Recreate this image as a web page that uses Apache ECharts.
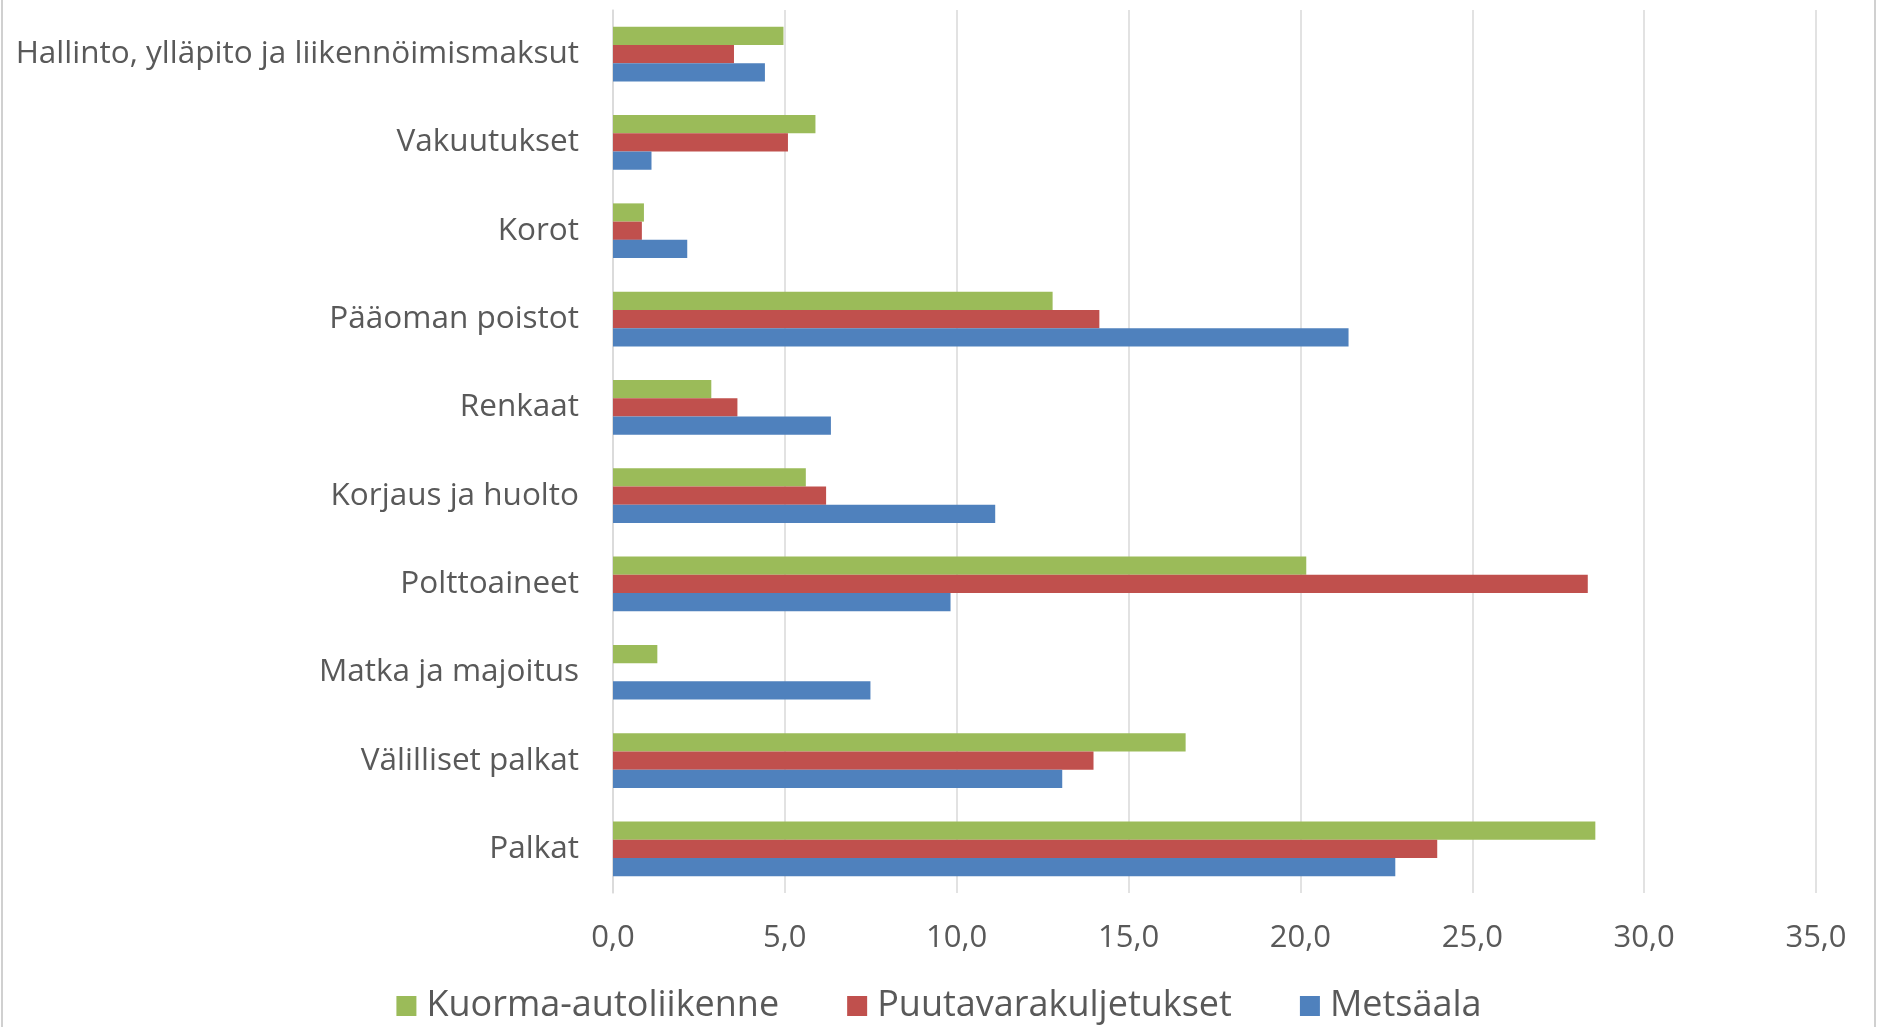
<!DOCTYPE html>
<html>
<head>
<meta charset="utf-8">
<script src="https://cdn.jsdelivr.net/npm/echarts@6/dist/echarts.min.js"></script>
<style>
html,body{margin:0;padding:0;background:#fff;}
#chart{width:1878px;height:1027px;}
</style>
</head>
<body>
<div id="chart"></div>
<script>
// Categories from bottom to top
const categories = ['Palkat','Välilliset palkat','Matka ja majoitus','Polttoaineet','Korjaus ja huolto','Renkaat','Pääoman poistot','Korot','Vakuutukset','Hallinto, ylläpito ja liikennöimismaksut'];
const metsaala = [22.76, 13.07, 7.49, 9.82, 11.12, 6.34, 21.4, 2.16, 1.12, 4.42];
const puutavara = [23.98, 13.98, 0, 28.36, 6.2, 3.62, 14.15, 0.84, 5.09, 3.52];
const kuorma = [28.58, 16.66, 1.29, 20.17, 5.61, 2.86, 12.79, 0.9, 5.89, 4.96];
const seriesNames = ['Kuorma-autoliikenne','Puutavarakuljetukset','Metsäala'];
const xTicks = {min: 0, max: 35, interval: 5};

const font = '"Open Sans", sans-serif';
const chart = echarts.init(document.getElementById('chart'));
chart.setOption({
  animation: false,
  textStyle: {fontFamily: font},
  grid: {left: 613, right: 62, top: 10, bottom: 134, containLabel: false},
  legend: {
    data: seriesNames,
    bottom: -2,
    left: 'center',
    itemWidth: 20, itemHeight: 20, itemGap: 68,
    icon: 'rect',
    textStyle: {fontSize: 36, color: '#595959', fontFamily: font, padding: [0,0,0,5]}
  },
  xAxis: {
    type: 'value', min: xTicks.min, max: xTicks.max, interval: xTicks.interval,
    axisLine: {show: false}, axisTick: {show: false},
    splitLine: {show: true, lineStyle: {color: '#d9d9d9', width: 1.5}},
    axisLabel: {fontSize: 31, color: '#595959', margin: 30, fontFamily: font,
      formatter: v => v.toFixed(1).replace('.', ',')}
  },
  yAxis: {
    type: 'category', data: categories,
    axisLine: {show: true, lineStyle: {color: '#d9d9d9', width: 1.5}},
    axisTick: {show: false},
    axisLabel: {fontSize: 31.5, color: '#595959', margin: 34, fontFamily: font}
  },
  series: [
    {name: 'Kuorma-autoliikenne', type: 'bar', data: kuorma, itemStyle: {color: '#9BBB59'}, barGap: '0%', barCategoryGap: '38%'},
    {name: 'Puutavarakuljetukset', type: 'bar', data: puutavara, itemStyle: {color: '#C0504D'}, barGap: '0%', barCategoryGap: '38%'},
    {name: 'Metsäala', type: 'bar', data: metsaala, itemStyle: {color: '#4F81BD'}, barGap: '0%', barCategoryGap: '38%'}
  ],
  graphic: [
    {type: 'line', shape: {x1: 2, y1: 0, x2: 2, y2: 1027}, style: {stroke: '#d0d0d0', lineWidth: 2}},
    {type: 'line', shape: {x1: 1875, y1: 0, x2: 1875, y2: 1027}, style: {stroke: '#d0d0d0', lineWidth: 2}}
  ]
});
</script>
</body>
</html>
